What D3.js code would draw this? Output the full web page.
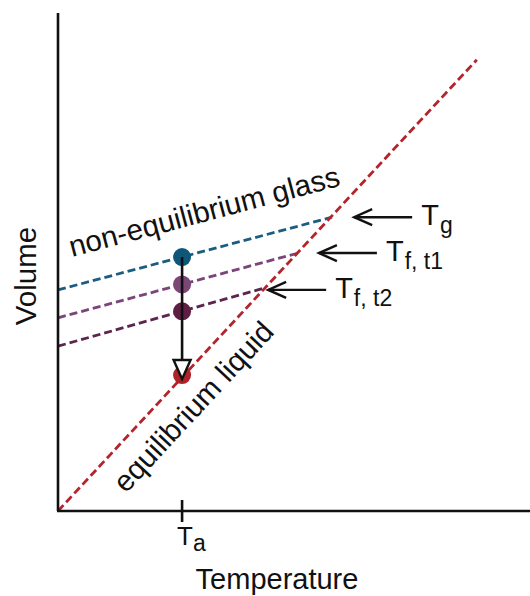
<!DOCTYPE html>
<html>
<head>
<meta charset="utf-8">
<script src="https://cdn.jsdelivr.net/npm/d3@7"></script>
<style>
  body { margin: 0; background: #fff; }
  svg { display: block; }
  text { font-family: "Liberation Sans", Arial, sans-serif; fill: #111; }
</style>
</head>
<body>
<svg></svg>
<script>
// temperature / volume in arbitrary units
const lineNames = ['liquid', 'glass', 't1', 't2'];
const lineStartT = [0, 0, 0, 0];
const lineStartV = [0, 44.4, 38.8, 33.1];
const lineEndT = [89.1, 58.3, 51.1, 44.0];
const lineEndV = [90.6, 59.0, 51.8, 44.8];
const lineColors = ['#b3242c', '#1b5d80', '#7a467a', '#5b2550'];

const Ta = 26.4;
const dotVolumes = [51.0, 45.5, 40.1, 27.3];
const dotColors = ['#0f5779', '#7b4777', '#5e1f43', '#b02228'];

// arrow annotations (tip on the curves)
const arrowTipT = [62.8, 55.3, 44.5];
const arrowTipV = [59.0, 51.8, 44.4];
const arrowSubs = ['g', 'f, t1', 'f, t2'];

const width = 530;
const height = 596;
const x0 = 58, y0 = 511;

const x = d3.scaleLinear().domain([0, 100]).range([x0, x0 + 470]);
const y = d3.scaleLinear().domain([0, 100]).range([y0, y0 - 498]);

const svg = d3.select('svg')
  .attr('width', width)
  .attr('height', height);

// dashed lines
const lines = lineNames.map((n, i) => ({
  name: n,
  pts: [[lineStartT[i], lineStartV[i]], [lineEndT[i], lineEndV[i]]],
  color: lineColors[i]
}));

const line = d3.line().x(d => x(d[0])).y(d => y(d[1]));

svg.selectAll('path.curve')
  .data(lines.slice(1).concat(lines.slice(0, 1)))
  .enter()
  .append('path')
    .attr('class', 'curve')
    .attr('d', d => line(d.pts))
    .attr('fill', 'none')
    .attr('stroke', d => d.color)
    .attr('stroke-width', 2.8)
    .attr('stroke-dasharray', '8,4');

// axes
svg.append('line')
  .attr('x1', x(0)).attr('y1', y(0))
  .attr('x2', x(0)).attr('y2', y(100))
  .attr('stroke', '#111').attr('stroke-width', 2.6);
svg.append('line')
  .attr('x1', x(0) - 1).attr('y1', y(0))
  .attr('x2', width).attr('y2', y(0))
  .attr('stroke', '#111').attr('stroke-width', 2.6);

// Ta tick
svg.append('line')
  .attr('x1', x(Ta)).attr('x2', x(Ta))
  .attr('y1', y(0) - 11).attr('y2', y(0) + 11)
  .attr('stroke', '#111').attr('stroke-width', 2.6);

const ta = svg.append('text')
  .attr('x', x(Ta) - 5)
  .attr('y', 545)
  .attr('font-size', 26)
  .attr('text-anchor', 'start');
ta.append('tspan').text('T');
ta.append('tspan').attr('font-size', 23).attr('dy', 6).text('a');

// dots
svg.selectAll('circle')
  .data(dotVolumes)
  .enter()
  .append('circle')
    .attr('cx', x(Ta))
    .attr('cy', d => y(d))
    .attr('r', 9)
    .attr('fill', (d, i) => dotColors[i]);

// vertical arrow
const arrTop = y(dotVolumes[0]);
const arrTip = y(dotVolumes[3]) + 4;
svg.append('line')
  .attr('x1', x(Ta)).attr('x2', x(Ta))
  .attr('y1', arrTop).attr('y2', arrTip - 18)
  .attr('stroke', '#111').attr('stroke-width', 2.6);
svg.append('path')
  .attr('d', `M${x(Ta) - 8.5},${arrTip - 19} L${x(Ta) + 8.5},${arrTip - 19} L${x(Ta)},${arrTip} Z`)
  .attr('fill', '#fff')
  .attr('stroke', '#111')
  .attr('stroke-width', 2.4)
  .attr('stroke-linejoin', 'miter');

// label arrows
arrowSubs.forEach((s, i) => {
  const tx = x(arrowTipT[i]);
  const ty = y(arrowTipV[i]);
  const len = 59;
  svg.append('line')
    .attr('x1', tx + 1).attr('y1', ty)
    .attr('x2', tx + len).attr('y2', ty)
    .attr('stroke', '#111').attr('stroke-width', 2.4);
  svg.append('path')
    .attr('d', `M${tx + 19},${ty - 8} L${tx + 1},${ty} L${tx + 19},${ty + 8}`)
    .attr('fill', 'none')
    .attr('stroke', '#111')
    .attr('stroke-width', 2.4);
  const t = svg.append('text')
    .attr('x', tx + len + 9)
    .attr('y', ty + 8)
    .attr('font-size', 29);
  t.append('tspan').text('T');
  t.append('tspan').attr('font-size', 23).attr('dy', 8).attr('dx', 1).text(s);
});

// curve labels
const glassAng = Math.atan2(y(lineEndV[1]) - y(lineStartV[1]), x(lineEndT[1]) - x(lineStartT[1])) * 180 / Math.PI;
svg.append('text')
  .attr('transform', `translate(72,257) rotate(${glassAng})`)
  .attr('font-size', 29.5)
  .text('non-equilibrium glass');

const liqAng = Math.atan2(y(lineEndV[0]) - y(0), x(lineEndT[0]) - x(0)) * 180 / Math.PI;
svg.append('text')
  .attr('transform', `translate(126,494) rotate(${liqAng})`)
  .attr('font-size', 29.5)
  .text('equilibrium liquid');

// axis titles
svg.append('text')
  .attr('x', 277).attr('y', 589)
  .attr('text-anchor', 'middle')
  .attr('font-size', 29)
  .text('Temperature');

svg.append('text')
  .attr('transform', 'translate(36,276) rotate(-90)')
  .attr('text-anchor', 'middle')
  .attr('font-size', 29.5)
  .text('Volume');
</script>
</body>
</html>
